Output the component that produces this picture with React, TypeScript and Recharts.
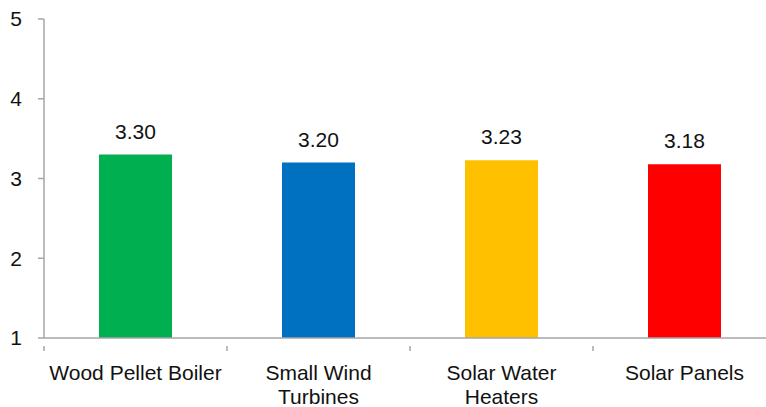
import { BarChart, Bar, XAxis, YAxis, Cell, LabelList } from 'recharts'

const categories = ['Wood Pellet Boiler', 'Small Wind\nTurbines', 'Solar Water\nHeaters', 'Solar Panels']
const values = [3.3, 3.2, 3.23, 3.18]
const colors = ['#00B050', '#0070C0', '#FFC000', '#FF0000']
const yTicks = [1, 2, 3, 4, 5]

const FONT = 'Liberation Sans, Arial, sans-serif'
const AXIS = '#a6a6a6'
const PLOT_W = 732
const HALF_BAND = PLOT_W / categories.length / 2

const data = categories.map((name, i) => ({ name, value: values[i] }))

function CategoryTick({ x, y, payload }: any) {
  const lines = String(payload.value).split('\n')
  return (
    <g>
      <line x1={x - HALF_BAND} x2={x - HALF_BAND} y1={y} y2={y + 5} stroke={AXIS} strokeWidth={1.5} />
      <text x={x} y={y + 34} textAnchor="middle" fontSize={21} fontFamily={FONT} fill="#111">
        {lines.map((l, i) => (
          <tspan key={i} x={x} dy={i === 0 ? 0 : 23.5}>{l}</tspan>
        ))}
      </text>
    </g>
  )
}

export default function App() {
  return (
    <div style={{ position: 'absolute', left: 0, top: 0, width: 766, height: 407, overflow: 'hidden', background: '#fff' }}>
      <BarChart width={780} height={407} data={data} margin={{ top: 19, right: 4, left: 0, bottom: 0 }}>
        <YAxis
          domain={[1, 5]}
          ticks={yTicks}
          width={44}
          axisLine={{ stroke: AXIS, strokeWidth: 1.5 }}
          tickLine={{ stroke: AXIS, strokeWidth: 1.5 }}
          tickSize={6}
          tickMargin={16}
          tick={{ fontSize: 21, fontFamily: FONT, fill: '#111' }}
        />
        <XAxis
          dataKey="name"
          height={69}
          interval={0}
          axisLine={{ stroke: AXIS, strokeWidth: 1.5 }}
          tickLine={false}
          tick={<CategoryTick />}
        />
        <Bar dataKey="value" barSize={73} isAnimationActive={false}>
          {data.map((_, i) => <Cell key={i} fill={colors[i]} />)}
          <LabelList
            dataKey="value"
            position="top"
            offset={16}
            formatter={(v: any) => Number(v).toFixed(2)}
            style={{ fontSize: 21, fontFamily: FONT, fill: '#111' }}
          />
        </Bar>
      </BarChart>
    </div>
  )
}
